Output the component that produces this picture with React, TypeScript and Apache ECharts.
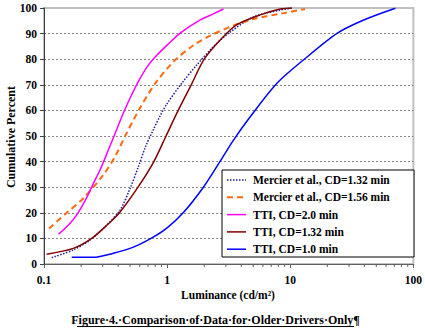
import React, { useEffect, useRef } from "react";
import * as echarts from "echarts";

const FONT = "'Liberation Serif', 'Times New Roman', serif";

const seriesNames = [
  "Mercier et al., CD=1.32 min",
  "Mercier et al., CD=1.56 min",
  "TTI, CD=2.0 min",
  "TTI, CD=1.32 min",
  "TTI, CD=1.0 min",
];

const mercier132: number[][] = [
  [0.1155, 2.5], [0.173, 5.5], [0.237, 9.4], [0.323, 15.2], [0.415, 21.1],
  [0.5, 29.5], [0.584, 38], [0.67, 46], [0.774, 52.5], [0.88, 58], [0.994, 62.5],
  [1.315, 70.6], [1.74, 77.7], [2.31, 84.3], [3.15, 90.1], [5.03, 96.5], [8.3, 99.2], [10.3, 100],
];

const mercier156: number[][] = [
  [0.11, 13.9], [0.153, 20], [0.209, 25.7], [0.303, 34.8], [0.378, 42],
  [0.456, 50], [0.603, 61], [0.8, 70.5], [1.125, 79], [1.64, 85.5],
  [2.31, 89.5], [3.57, 93.4], [5.03, 95.7], [8.83, 98], [13.2, 99.6],
];

const tti20: number[][] = [
  [0.131, 11.6], [0.16, 15.5], [0.188, 19.8], [0.22, 25.5], [0.252, 31.5], [0.285, 36.7],
  [0.333, 44.5], [0.378, 51], [0.441, 59], [0.52, 66.5], [0.603, 72.5], [0.7, 77.5],
  [0.824, 81.5], [1.0, 85.5], [1.276, 90.2], [1.8, 95], [2.37, 97.7], [2.87, 99.6],
];

const tti132: number[][] = [
  [0.105, 3.8], [0.173, 6.1], [0.244, 10], [0.33, 15.5], [0.41, 20],
  [0.58, 30], [0.78, 40], [0.98, 50], [1.23, 60], [1.57, 70],
  [2.0, 80], [2.7, 87.5], [3.66, 93.4], [5.7, 97.3],
  [8.3, 99.6], [10.3, 100],
];

const tti10: number[][] = [
  [0.168, 2.6], [0.252, 2.6], [0.366, 4.2], [0.532, 6.6], [0.74, 10],
  [0.994, 14], [1.35, 20], [1.97, 30], [2.7, 40.2], [3.46, 48.4],
  [4.73, 57.5], [7.8, 70.6], [12.8, 79.7], [24, 90.1], [39.5, 95.3], [71.4, 99.9],
];

const minorTickValues = [
  0.2, 0.3, 0.4, 0.5, 0.6, 0.7, 0.8, 0.9,
  2, 3, 4, 5, 6, 7, 8, 9,
  20, 30, 40, 50, 60, 70, 80, 90,
];

const xTickLabels: Record<string, string> = { "0.1": "0.1", "1": "1", "10": "10", "100": "100" };

const yTitle = "Cumulative Percent";
const xTitle = "Luminance (cd/m²)";
const caption = "Figure·4.·Comparison·of·Data·for·Older·Drivers·Only¶";

const seriesColors = ["#1c1c9c", "#ff6a10", "#ff00ff", "#800000", "#0000ff"];
const seriesDash: any[] = [[1.5, 1.5], [6, 4], "solid", "solid", "solid"];
const seriesWidth = [1.5, 2, 1.5, 1.5, 1.5];

export default function App() {
  const ref = useRef<HTMLDivElement>(null);
  useEffect(() => {
    if (!ref.current) return;
    const chart = echarts.init(ref.current, undefined, { renderer: "svg" });
    const datasets = [mercier132, mercier156, tti20, tti132, tti10];
    const lines = datasets.map((data, i) => ({
      name: seriesNames[i],
      type: "line",
      data,
      showSymbol: false,
      symbol: "none",
      smooth: 0.3,
      z: 3,
      lineStyle: { color: seriesColors[i], type: seriesDash[i], width: seriesWidth[i] },
      itemStyle: { color: seriesColors[i] },
    }));
    const legendRows = [180, 197.3, 214.6, 231.9, 249.2];
    const legendGraphics: any[] = [];
    seriesNames.forEach((name, i) => {
      const y = legendRows[i];
      legendGraphics.push({
        type: "line",
        z: 21,
        shape: { x1: 227, y1: y, x2: 246, y2: y },
        style: {
          stroke: seriesColors[i],
          lineWidth: seriesWidth[i],
          lineDash: seriesDash[i] === "solid" ? null : seriesDash[i],
        },
      });
      legendGraphics.push({
        type: "text",
        z: 21,
        x: 253,
        y,
        style: {
          text: name,
          fontFamily: FONT,
          fontWeight: "bold",
          fontSize: 11.5,
          fill: "#000",
          align: "left",
          verticalAlign: "middle",
        },
      });
    });
    chart.setOption({
      animation: false,
      backgroundColor: "#ffffff",
      textStyle: { fontFamily: FONT },
      grid: {
        left: 44,
        right: 11,
        top: 8,
        bottom: 69,
        show: true,
        borderColor: "#c0c0c0",
        borderWidth: 2,
        backgroundColor: "transparent",
      },
      xAxis: {
        type: "log",
        logBase: 10,
        min: 0.1,
        max: 100,
        axisLine: { show: true, lineStyle: { color: "#606060", width: 1 } },
        axisTick: { show: true, inside: false, length: 4, lineStyle: { color: "#606060" } },
        splitLine: { show: false },
        minorTick: { show: false },
        axisLabel: {
          margin: 10,
          fontFamily: FONT,
          fontWeight: "bold",
          fontSize: 11.5,
          color: "#000",
          formatter: (v: number) => xTickLabels[String(v)] ?? String(v),
        },
      },
      yAxis: {
        type: "value",
        min: 0,
        max: 100,
        interval: 10,
        axisLine: { show: true, lineStyle: { color: "#404040", width: 1 } },
        axisTick: { show: true, inside: false, length: 4, lineStyle: { color: "#404040" } },
        splitLine: {
          show: true,
          showMinLine: false,
          showMaxLine: false,
          lineStyle: { color: "#888888", type: [2, 2], width: 1 },
        },
        axisLabel: {
          margin: 7,
          fontFamily: FONT,
          fontWeight: "bold",
          fontSize: 11.5,
          color: "#000",
        },
      },
      graphic: [
        {
          type: "rect",
          z: 15,
          shape: { x: 222, y: 170, width: 192, height: 87 },
          style: { fill: "#fff", stroke: "#000", lineWidth: 1 },
          silent: true,
        },
        ...legendGraphics,
        {
          type: "text",
          x: 11,
          y: 137,
          rotation: Math.PI / 2,
          style: {
            text: yTitle,
            fontFamily: FONT,
            fontWeight: "bold",
            fontSize: 12,
            fill: "#000",
            align: "center",
            verticalAlign: "middle",
          },
        },
        {
          type: "text",
          x: 228,
          y: 295,
          style: {
            text: xTitle,
            fontFamily: FONT,
            fontWeight: "bold",
            fontSize: 11.5,
            fill: "#000",
            align: "center",
            verticalAlign: "middle",
          },
        },
        {
          type: "text",
          x: 215.5,
          y: 320,
          style: {
            text: caption,
            fontFamily: FONT,
            fontWeight: "bold",
            fontSize: 12,
            fill: "#000",
            align: "center",
            verticalAlign: "middle",
          },
        },
        {
          type: "line",
          shape: { x1: 77, y1: 326.5, x2: 354, y2: 326.5 },
          style: { stroke: "#000", lineWidth: 1 },
        },
      ],
      series: [
        ...lines,
        {
          name: "minorTicks",
          type: "custom",
          silent: true,
          clip: false,
          data: minorTickValues.map((v) => [v, 0]),
          encode: { x: 0, y: 1 },
          renderItem: (params: any, api: any) => {
            const p = api.coord([api.value(0), 0]);
            return {
              type: "line",
              shape: { x1: p[0], y1: p[1], x2: p[0], y2: p[1] + 3 },
              style: { stroke: "#606060", lineWidth: 1 },
            };
          },
        },
      ],
    });
    return () => chart.dispose();
  }, []);
  return <div ref={ref} style={{ width: 425, height: 333, position: "absolute", left: 0, top: 0 }} />;
}
